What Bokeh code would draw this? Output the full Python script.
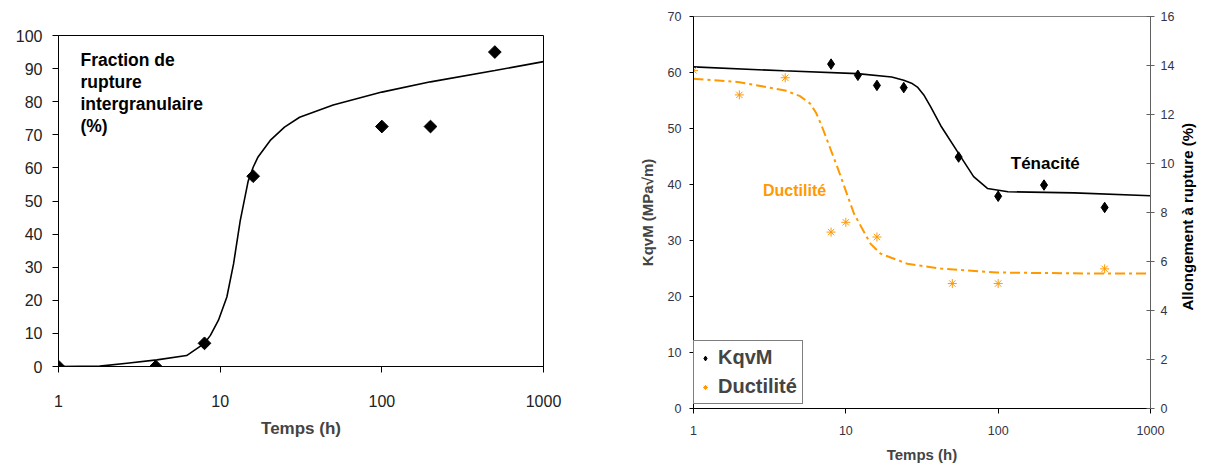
import math
from bokeh.plotting import figure
from bokeh.models import (Range1d, LinearAxis, FixedTicker, PrintfTickFormatter,
                          Label, Legend, LegendItem)
from bokeh.layouts import row
from bokeh.embed import file_html
from bokeh.resources import INLINE

FONT = "Liberation Sans"
ORANGE = "#FF9900"

# ---------------- Left chart data ----------------
frac_t = [1, 4, 8, 16, 100, 200, 500]
frac_v = [0, 0, 7, 57.5, 72.5, 72.5, 95]
frac_curve_t = [1, 1.8, 2.65, 4.06, 6.2, 8, 8.7, 9.76, 11.0, 12.1, 13.3, 14.9, 16, 17.1,
                20.4, 25, 31, 50, 100, 200, 500, 1000]
frac_curve_v = [0, 0.1, 1, 2, 3.3, 7, 9.4, 14, 21, 31, 44, 56, 60.2, 63.2,
                68.3, 72.3, 75.3, 79, 82.9, 86, 89.4, 92.1]
left_xticks = [1, 10, 100, 1000]
left_yticks = list(range(0, 101, 10))
left_note = ["Fraction de", "rupture", "intergranulaire", "(%)"]

# ---------------- Right chart data ----------------
tough_t = [8, 12, 16, 24, 55, 100, 200, 500]
tough_v = [61.5, 59.5, 57.7, 57.3, 44.9, 37.9, 39.9, 35.9]
duct_t = [1, 2, 4, 8, 10, 16, 50, 100, 500]
duct_v = [13.8, 12.8, 13.5, 7.2, 7.6, 7.0, 5.1, 5.1, 5.7]
tough_curve_t = [1, 3.9, 11.9, 20, 24, 27, 29.5, 32.5, 36, 42, 57, 69, 85, 116, 315, 1000]
tough_curve_v = [61.0, 60.3, 59.8, 59.2, 58.6, 58.1, 57.4, 56.0, 53.9, 50.5, 44.9, 41.4,
                 39.3, 38.7, 38.5, 38.0]
duct_curve_t = [1, 2, 4, 5.0, 5.85, 6.4, 7.0, 8.8, 11.3, 14.5, 16.9, 25.3, 42, 98, 410, 1000]
duct_curve_v = [13.46, 13.32, 12.98, 12.75, 12.44, 12.05, 11.48, 9.85, 7.96, 6.73, 6.32,
                5.91, 5.71, 5.55, 5.51, 5.51]
right_xticks = [1, 10, 100, 1000]
right_yticks = list(range(0, 71, 10))
right_y2ticks = list(range(0, 17, 2))
right_title = "Allongement à rupture (%)"

# ================= Left figure =================
p1 = figure(width=620, height=465, x_axis_type="log", title=None,
            x_range=Range1d(1, 1000), y_range=Range1d(0, 100),
            output_backend="svg", toolbar_location=None,
            min_border_left=58, min_border_right=77, min_border_top=35, min_border_bottom=99)
p1.grid.visible = False
p1.outline_line_color = "black"
p1.outline_line_width = 1

xa = p1.xaxis[0]
xa.ticker = FixedTicker(ticks=left_xticks, minor_ticks=[])
xa.formatter = PrintfTickFormatter(format="%d")
xa.major_tick_out = 6
xa.major_tick_in = 0
xa.major_label_standoff = 22
xa.major_label_text_font = FONT
xa.major_label_text_font_size = "16px"
xa.major_label_text_color = "#222222"
xa.axis_line_color = "black"
xa.axis_label = "Temps (h)"
xa.axis_label_text_font = FONT
xa.axis_label_text_font_style = "bold"
xa.axis_label_text_font_size = "17px"
xa.axis_label_standoff = 9

ya = p1.yaxis[0]
ya.ticker = FixedTicker(ticks=left_yticks, minor_ticks=[])
ya.major_tick_out = 6
ya.major_tick_in = 0
ya.major_label_standoff = 10
ya.major_label_text_font = FONT
ya.major_label_text_font_size = "16px"
ya.major_label_text_color = "#222222"
ya.axis_line_color = "black"

p1.line(frac_curve_t, frac_curve_v, line_color="black", line_width=1.6)
p1.scatter(frac_t, frac_v, marker="square", angle=0.785398, size=9,
           fill_color="black", line_color="black")

for i, txt in enumerate(left_note):
    p1.add_layout(Label(x=1.367, y=95.6 - i * 6.65, text=txt, text_font=FONT,
                        text_font_style="bold", text_font_size="17.5px",
                        text_baseline="top", text_align="left", text_color="black"))

# ================= Right figure =================
p2 = figure(width=588, height=465, x_axis_type="log", title=None,
            x_range=Range1d(1, 1000), y_range=Range1d(0, 70),
            output_backend="svg", toolbar_location=None,
            min_border_left=73, min_border_right=58, min_border_top=16, min_border_bottom=57)
p2.grid.visible = False
p2.outline_line_color = "#808080"
p2.outline_line_width = 1
p2.extra_y_ranges = {"r": Range1d(0, 16)}

for p in (p1, p2):
    try:
        p.frame_align = False
    except Exception:
        pass

xb = p2.xaxis[0]
xb.ticker = FixedTicker(ticks=right_xticks, minor_ticks=[])
xb.formatter = PrintfTickFormatter(format="%d")
xb.major_tick_out = 5
xb.major_tick_in = 0
xb.major_label_standoff = 12
xb.major_label_text_font = FONT
xb.major_label_text_font_size = "12.5px"
xb.major_label_text_color = "#333344"
xb.axis_line_color = "black"
xb.axis_label = "Temps (h)"
xb.axis_label_text_font = FONT
xb.axis_label_text_font_style = "bold"
xb.axis_label_text_font_size = "15px"
xb.axis_label_standoff = 8

yb = p2.yaxis[0]
yb.ticker = FixedTicker(ticks=right_yticks, minor_ticks=[])
yb.major_tick_out = 4
yb.major_tick_in = 0
yb.major_label_standoff = 8
yb.major_label_text_font = FONT
yb.major_label_text_font_size = "12.5px"
yb.major_label_text_color = "#333344"
yb.axis_line_color = "black"
yb.axis_label = "KqvM (MPa√m)"
yb.axis_label_text_font = FONT
yb.axis_label_text_font_style = "bold"
yb.axis_label_text_font_size = "15px"
yb.axis_label_standoff = 9

# right axis: ticks and numbers
y2 = LinearAxis(y_range_name="r", ticker=FixedTicker(ticks=right_y2ticks, minor_ticks=[]))
y2.major_tick_out = 4
y2.major_tick_in = 4
y2.major_label_standoff = 6
y2.major_label_text_font = FONT
y2.major_label_text_font_size = "12.5px"
y2.major_label_text_color = "#333344"
y2.axis_line_color = "#606060"
y2.major_tick_line_color = "#606060"
p2.add_layout(y2, "right")

# right axis title, reading bottom-to-top: a bare axis whose single label is the title
y3 = LinearAxis(y_range_name="r", ticker=FixedTicker(ticks=[4], minor_ticks=[]),
                formatter=PrintfTickFormatter(format="Allongement à rupture (%%)"))
y3.major_label_overrides = {4: right_title, "4": right_title}
y3.axis_line_color = None
y3.major_tick_line_color = None
y3.minor_tick_line_color = None
y3.major_tick_out = 0
y3.major_tick_in = 0
y3.major_label_standoff = 10
y3.major_label_orientation = math.pi / 2
y3.major_label_text_font = FONT
y3.major_label_text_font_style = "bold"
y3.major_label_text_font_size = "15px"
y3.major_label_text_color = "black"
p2.add_layout(y3, "right")

p2.line(tough_curve_t, tough_curve_v, line_color="black", line_width=1.6)
p2.line(duct_curve_t, duct_curve_v, y_range_name="r", line_color=ORANGE,
        line_width=2, line_dash="10 4 3 4")
r_tough = p2.scatter(tough_t, tough_v, marker="diamond", size=10.5,
                     fill_color="black", line_color="black")
r_duct = p2.scatter(duct_t, duct_v, y_range_name="r", marker="asterisk", size=9,
                    line_color=ORANGE, line_width=1)

p2.add_layout(Label(x=121, y=43.8, text="Ténacité", text_font=FONT, text_font_style="bold",
                    text_font_size="17px", text_baseline="middle", text_color="black"))
p2.add_layout(Label(x=2.86, y=39.0, text="Ductilité", text_font=FONT, text_font_style="bold",
                    text_font_size="16px", text_baseline="middle", text_color=ORANGE))

legend = Legend(items=[LegendItem(label="KqvM", renderers=[r_tough]),
                       LegendItem(label="Ductilité", renderers=[r_duct])],
                location=(0, 4))
legend.border_line_color = "black"
legend.border_line_width = 1
legend.background_fill_color = "white"
legend.background_fill_alpha = 1
legend.label_text_font = FONT
legend.label_text_font_style = "bold"
legend.label_text_font_size = "20px"
legend.label_height = 20
legend.glyph_width = 12
legend.glyph_height = 12
legend.label_standoff = 7
legend.spacing = 6
legend.padding = 5
legend.margin = 0
p2.add_layout(legend)

layout = row(p1, p2)
open("out.html", "w").write(file_html(layout, INLINE))
